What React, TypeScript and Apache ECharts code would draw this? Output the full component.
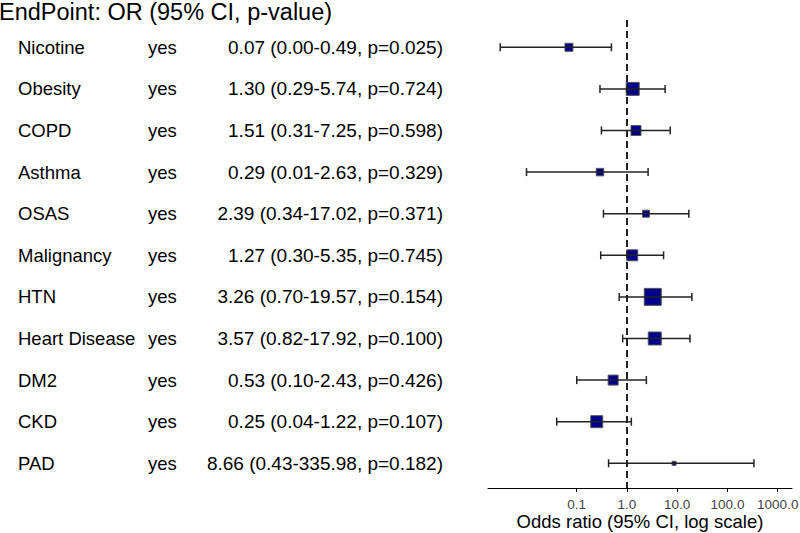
import React, { useEffect, useRef } from "react";
import * as echarts from "echarts";

const names = ["Nicotine", "Obesity", "COPD", "Asthma", "OSAS", "Malignancy", "HTN", "Heart Disease", "DM2", "CKD", "PAD"];
const levels = ["yes", "yes", "yes", "yes", "yes", "yes", "yes", "yes", "yes", "yes", "yes"];
const oddsRatios = [0.07, 1.3, 1.51, 0.29, 2.39, 1.27, 3.26, 3.57, 0.53, 0.25, 8.66];
const lowerCI = [0.003, 0.29, 0.31, 0.01, 0.34, 0.3, 0.7, 0.82, 0.1, 0.04, 0.43];
const upperCI = [0.49, 5.74, 7.25, 2.63, 17.02, 5.35, 19.57, 17.92, 2.43, 1.22, 335.98];
const pValues = ["0.025", "0.724", "0.598", "0.329", "0.371", "0.745", "0.154", "0.100", "0.426", "0.107", "0.182"];
const weights = [8, 13, 10, 7.5, 7, 11, 17, 13, 10, 12, 4];
const tickValues = [0.1, 1, 10, 100, 1000];

const FONT = "Liberation Sans, Arial, sans-serif";

export default function App() {
  const ref = useRef<HTMLDivElement>(null);
  useEffect(() => {
    if (!ref.current) return;
    const chart = echarts.init(ref.current, null, { renderer: "svg" });
    const forestData = names.map((_, i) => [lowerCI[i], upperCI[i], oddsRatios[i], i, weights[i]]);
    const textData = names.map((_, i) => [1, i]);
    chart.setOption({
      animation: false,
      backgroundColor: "#fff",
      title: {
        text: "EndPoint: OR (95% CI, p-value)",
        left: -1,
        top: 0,
        padding: 0,
        textStyle: { fontSize: 23.5, fontWeight: "normal", color: "#000", fontFamily: FONT },
      },
      grid: { left: 488, right: 8, top: 20, bottom: 45, outerBoundsMode: "none", containLabel: false },
      xAxis: {
        type: "log",
        logBase: 10,
        min: 0.001714,
        max: 1922,
        splitLine: { show: false },
        axisLine: { show: true, onZero: false, lineStyle: { color: "#000", width: 1 } },
        axisTick: { show: true, length: 4, lineStyle: { color: "#000" }, customValues: tickValues },
        axisLabel: {
          customValues: tickValues,
          margin: 9,
          fontSize: 13.5,
          color: "#444",
          fontFamily: FONT,
          formatter: (v: number) => Number(v).toFixed(1),
        },
        name: "Odds ratio (95% CI, log scale)",
        nameLocation: "middle",
        nameGap: 33,
        nameMoveOverlap: false,
        nameTextStyle: { fontSize: 18.5, color: "#000", fontFamily: FONT, verticalAlign: "middle", lineHeight: 20 },
      },
      yAxis: {
        type: "value",
        inverse: true,
        min: -0.656,
        max: 10.594,
        show: false,
      },
      series: [
        {
          type: "custom",
          data: forestData,
          encode: { x: [0, 1, 2], y: 3 },
          renderItem: (params: any, api: any) => {
            const row = api.value(3);
            const lo = api.coord([api.value(0), row]);
            const hi = api.coord([api.value(1), row]);
            const c = api.coord([api.value(2), row]);
            const s = api.value(4);
            const cap = 4;
            return {
              type: "group",
              children: [
                {
                  type: "rect",
                  shape: { x: c[0] - s / 2, y: c[1] - s / 2, width: s, height: s },
                  style: { fill: "#00008B", stroke: "#555", lineWidth: 1 },
                },
                {
                  type: "line",
                  shape: { x1: lo[0], y1: lo[1], x2: hi[0], y2: hi[1] },
                  style: { stroke: "#222", lineWidth: 1.5 },
                },
                {
                  type: "line",
                  shape: { x1: lo[0], y1: lo[1] - cap, x2: lo[0], y2: lo[1] + cap },
                  style: { stroke: "#222", lineWidth: 1.5 },
                },
                {
                  type: "line",
                  shape: { x1: hi[0], y1: hi[1] - cap, x2: hi[0], y2: hi[1] + cap },
                  style: { stroke: "#222", lineWidth: 1.5 },
                },
              ],
            };
          },
          markLine: {
            silent: true,
            symbol: ["none", "none"],
            label: { show: false },
            lineStyle: { color: "#222", type: [7, 4], width: 2 },
            data: [{ xAxis: 1 }],
          },
          z: 3,
        },
        {
          type: "custom",
          data: textData,
          encode: { x: 0, y: 1 },
          clip: false,
          renderItem: (params: any, api: any) => {
            const i = params.dataIndex;
            const y = api.coord([1, api.value(1)])[1];
            const est =
              oddsRatios[i].toFixed(2) +
              " (" +
              lowerCI[i].toFixed(2) +
              "-" +
              upperCI[i].toFixed(2) +
              ", p=" +
              pValues[i] +
              ")";
            const base = { fontSize: 18.5, fontFamily: FONT, fill: "#000", verticalAlign: "middle" };
            return {
              type: "group",
              children: [
                { type: "text", style: { ...base, text: names[i], x: 18, y, align: "left" } },
                { type: "text", style: { ...base, text: levels[i], x: 148, y, align: "left" } },
                { type: "text", style: { ...base, fontSize: 19, text: est, x: 443, y, align: "right" } },
              ],
            };
          },
        },
      ],
    });
    return () => chart.dispose();
  }, []);
  return <div ref={ref} style={{ width: 800, height: 533, position: "absolute", left: 0, top: 0 }} />;
}
